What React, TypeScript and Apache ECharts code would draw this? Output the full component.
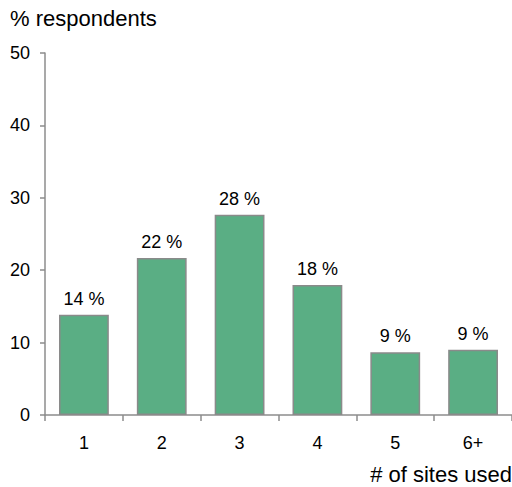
import React, { useEffect, useRef } from "react";
import * as echarts from "echarts";

const categories = ["1", "2", "3", "4", "5", "6+"];
const shares = [13.85, 21.7, 27.65, 17.95, 8.65, 9.0];
const yTicks = { min: 0, max: 50, interval: 10 };
const yTitle = "% respondents";
const xTitle = "# of sites used";

const FONT = "'Liberation Sans', Arial, sans-serif";

export default function App() {
  const ref = useRef<HTMLDivElement>(null);

  useEffect(() => {
    if (!ref.current) return;
    const chart = echarts.init(ref.current, null, { renderer: "svg" });
    chart.setOption({
      animation: false,
      textStyle: { fontFamily: FONT },
      grid: { left: 45, right: 0, top: 53, bottom: 72, containLabel: false },
      xAxis: {
        type: "category",
        data: categories,
        axisLine: { lineStyle: { color: "#8c8c8c", width: 1.5 } },
        axisTick: { show: true, length: 6, lineStyle: { color: "#8c8c8c", width: 1.5 } },
        axisLabel: { color: "#000", fontSize: 18, fontFamily: FONT, margin: 19 },
      },
      yAxis: {
        type: "value",
        min: yTicks.min,
        max: yTicks.max,
        interval: yTicks.interval,
        axisLine: { show: true, lineStyle: { color: "#8c8c8c", width: 1.5 } },
        axisTick: { show: true, length: 5, lineStyle: { color: "#8c8c8c", width: 1.5 } },
        splitLine: { show: false },
        axisLabel: { color: "#000", fontSize: 18, fontFamily: FONT, margin: 15 },
      },
      graphic: [
        {
          type: "text",
          left: 10,
          top: 7,
          style: { text: yTitle, fontSize: 22, fontFamily: FONT, fill: "#000" },
        },
        {
          type: "text",
          right: 0,
          top: 463,
          style: { text: xTitle, fontSize: 22, fontFamily: FONT, fill: "#000" },
        },
      ],
      series: [
        {
          type: "bar",
          data: shares,
          barWidth: "64%",
          itemStyle: { color: "#5aae84", borderColor: "#8a8a8a", borderWidth: 1.5 },
          label: {
            show: true,
            position: "top",
            distance: 7,
            color: "#000",
            fontSize: 18,
            fontFamily: FONT,
            formatter: (p: any) => `${Math.round(p.value)} %`,
          },
        },
      ],
    });
    return () => chart.dispose();
  }, []);

  return (
    <div
      ref={ref}
      style={{ position: "fixed", left: 0, top: 0, width: 512, height: 487, background: "#fff" }}
    />
  );
}
